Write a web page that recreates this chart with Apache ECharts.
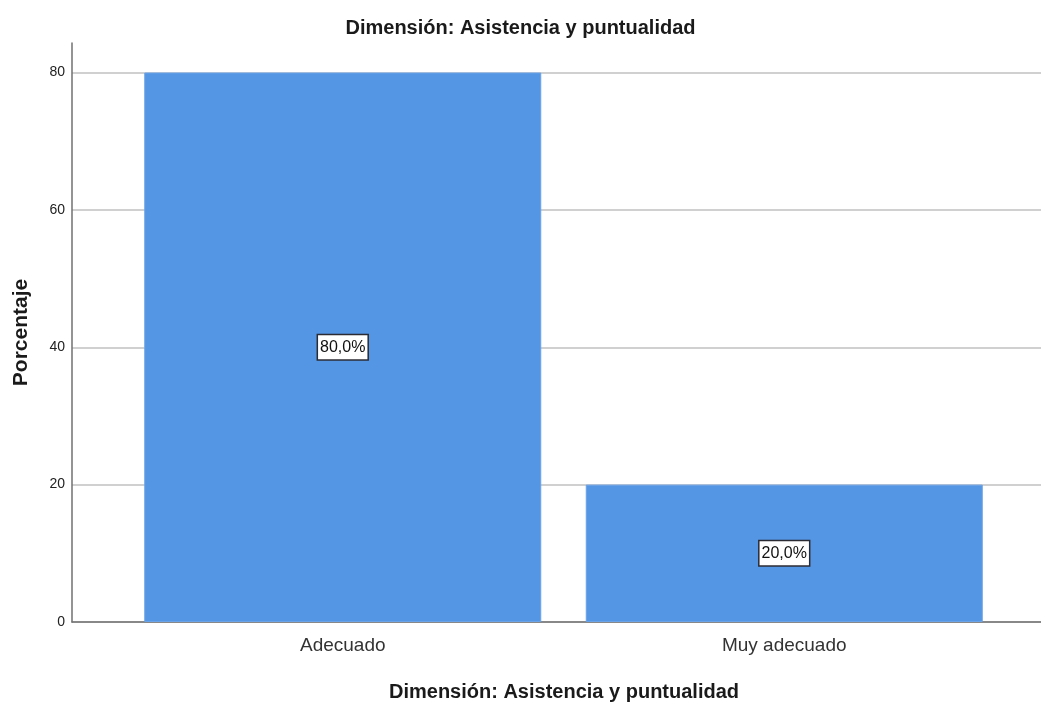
<!DOCTYPE html>
<html>
<head>
<meta charset="utf-8">
<script src="https://cdn.jsdelivr.net/npm/echarts@6/dist/echarts.min.js"></script>
<style>
  html, body { margin: 0; padding: 0; background: #fff; }
  #chart { width: 1041px; height: 704px; }
</style>
</head>
<body>
<div id="chart"></div>
<script>
// datos del gráfico
var categorias = ['Adecuado', 'Muy adecuado'];
var porcentajes = [80, 20];
var etiquetas = ['80,0%', '20,0%'];
var ticksY = [0, 20, 40, 60, 80];

var titulo = 'Dimensión: Asistencia y puntualidad';
var fuente = '"Liberation Sans", Arial, sans-serif';
var yMax = 84.3;

var myChart = echarts.init(document.getElementById('chart'));

myChart.setOption({
    animation: false,
    backgroundColor: '#ffffff',
    title: {
        text: titulo,
        left: 'center',
        top: 13,
        textStyle: { fontFamily: fuente, fontSize: 20, fontWeight: 'bold', color: '#1a1a1a' }
    },
    grid: [
        // ejes y líneas de rejilla
        { left: 72, right: 0, top: 43, bottom: 82, outerBoundsMode: 'none', containLabel: false },
        // barras (SPSS deja margen a los lados)
        { left: 122, right: 36, top: 43, bottom: 82, outerBoundsMode: 'none', containLabel: false }
    ],
    xAxis: [{
        gridIndex: 0,
        type: 'category',
        data: categorias,
        name: titulo,
        nameLocation: 'middle',
        nameGap: 60,
        nameTextStyle: { fontFamily: fuente, fontSize: 20, fontWeight: 'bold', color: '#1a1a1a', padding: [0, 0, 0, 15] },
        axisLine: { lineStyle: { color: '#707070', width: 1.5 } },
        axisTick: { show: false },
        axisLabel: { show: false }
    }, {
        gridIndex: 1,
        type: 'category',
        data: categorias,
        axisLine: { show: false },
        axisTick: { show: false },
        axisLabel: { fontFamily: fuente, fontSize: 19, color: '#333', margin: 14 }
    }],
    yAxis: [{
        gridIndex: 0,
        type: 'value',
        min: 0,
        max: yMax,
        interval: 20,
        name: 'Porcentaje',
        nameLocation: 'middle',
        nameGap: 40,
        nameRotate: 90,
        nameTextStyle: { fontFamily: fuente, fontSize: 21, fontWeight: 'bold', color: '#1a1a1a' },
        axisLine: { show: true, lineStyle: { color: '#707070', width: 1.5 } },
        axisTick: { show: false },
        axisLabel: {
            fontFamily: fuente, fontSize: 14, color: '#222', margin: 7,
            showMaxLabel: false,
            formatter: function(v) { return ticksY.indexOf(v) >= 0 ? v : ''; }
        },
        splitLine: { show: true, showMaxLine: false, lineStyle: { color: '#d0d0d0', width: 2 } }
    }, {
        gridIndex: 1,
        type: 'value',
        min: 0,
        max: yMax,
        interval: 20,
        show: false
    }],
    series: [{
        type: 'bar',
        xAxisIndex: 1,
        yAxisIndex: 1,
        data: porcentajes,
        barWidth: 397,
        itemStyle: { color: '#5495e4', borderColor: '#6aa3e8', borderWidth: 1 },
        label: {
            show: true,
            position: 'inside',
            formatter: function(p) { return etiquetas[p.dataIndex]; },
            fontFamily: fuente,
            fontSize: 16,
            color: '#111',
            backgroundColor: '#ffffff',
            borderColor: '#2b2b33',
            borderWidth: 1.5,
            padding: [5, 2, 3, 2]
        }
    }]
});
</script>
</body>
</html>
